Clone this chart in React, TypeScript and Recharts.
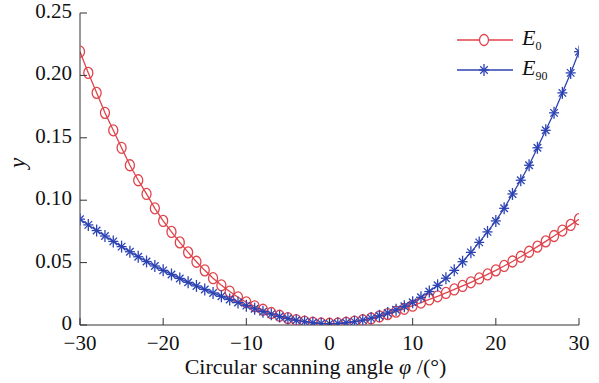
import { LineChart, Line, XAxis, YAxis } from 'recharts';

// scanning angle, degrees
const angles = [
  -30, -29, -28, -27, -26, -25, -24, -23, -22, -21, -20, -19, -18, -17, -16, -15,
  -14, -13, -12, -11, -10, -9, -8, -7, -6, -5, -4, -3, -2, -1, 0,
  1, 2, 3, 4, 5, 6, 7, 8, 9, 10, 11, 12, 13, 14, 15,
  16, 17, 18, 19, 20, 21, 22, 23, 24, 25, 26, 27, 28, 29, 30,
];

const e0 = [
  0.219, 0.202, 0.186, 0.170, 0.156, 0.142, 0.128, 0.116, 0.105, 0.0935, 0.0834, 0.0746, 0.0662, 0.0582, 0.0507, 0.0438,
  0.0375, 0.0318, 0.0268, 0.0222, 0.0182, 0.0150, 0.0122, 0.0096, 0.0074, 0.0055, 0.0039, 0.0027, 0.0018, 0.0012, 0.0010,
  0.0012, 0.0018, 0.0027, 0.0038, 0.0052, 0.0068, 0.0087, 0.0107, 0.0130, 0.0155, 0.0180, 0.0205, 0.0230, 0.0257, 0.0285,
  0.0313, 0.0342, 0.0373, 0.0405, 0.0438, 0.0473, 0.0509, 0.0547, 0.0587, 0.0628, 0.0670, 0.0713, 0.0757, 0.0802, 0.0848,
];

const e90 = [
  0.0848, 0.0802, 0.0757, 0.0713, 0.0670, 0.0628, 0.0587, 0.0547, 0.0509, 0.0473, 0.0438, 0.0405, 0.0373, 0.0342, 0.0313, 0.0285,
  0.0257, 0.0230, 0.0205, 0.0180, 0.0155, 0.0130, 0.0107, 0.0087, 0.0068, 0.0052, 0.0038, 0.0027, 0.0018, 0.0012, 0.0010,
  0.0012, 0.0018, 0.0027, 0.0039, 0.0055, 0.0074, 0.0096, 0.0122, 0.0150, 0.0182, 0.0222, 0.0268, 0.0318, 0.0375, 0.0438,
  0.0507, 0.0582, 0.0662, 0.0746, 0.0834, 0.0935, 0.105, 0.116, 0.128, 0.142, 0.156, 0.170, 0.186, 0.202, 0.219,
];

const xTicks = [-30, -20, -10, 0, 10, 20, 30];
const yTicks = [0, 0.05, 0.1, 0.15, 0.2, 0.25];

const RED = '#e0434b';
const BLUE = '#2d43b3';
const AXIS = '#333';
const FONT = '"Liberation Serif", "Times New Roman", serif';

const data = angles.map((a, i) => ({ a, e0: e0[i], e90: e90[i] }));

const fmtX = (v: number) => (v < 0 ? `\u2212${Math.abs(v)}` : `${v}`);
const fmtY = (v: number) => (v === 0 ? '0' : v.toFixed(2));

const XTick = ({ x, y, payload }: any) => (
  <g>
    <line x1={x} x2={x} y1={y} y2={y - 7} stroke={AXIS} />
    <text x={x} y={y + 25} textAnchor="middle" style={{ fontFamily: FONT, fontSize: 21 }} fill="#111">
      {fmtX(payload.value)}
    </text>
  </g>
);

const YTick = ({ x, y, payload }: any) => (
  <g>
    <line x1={x} x2={x + 7} y1={y} y2={y} stroke={AXIS} />
    <text x={x - 8} y={y + 5} textAnchor="end" style={{ fontFamily: FONT, fontSize: 21 }} fill="#111">
      {fmtY(payload.value)}
    </text>
  </g>
);

const CircleDot = ({ cx, cy, index }: any) => (
  <ellipse key={`c-${index}`} cx={cx} cy={cy} rx={4.5} ry={5.5} fill="none" stroke={RED} strokeWidth={1.3} />
);

const Star = ({ cx, cy, r = 5, color = BLUE }: any) => (
  <g stroke={color} strokeWidth={1.3}>
    <line x1={cx} x2={cx} y1={cy - r - 1} y2={cy + r + 1} />
    <line x1={cx - r} x2={cx + r} y1={cy} y2={cy} />
    <line x1={cx - r * 0.75} x2={cx + r * 0.75} y1={cy - r * 0.75} y2={cy + r * 0.75} />
    <line x1={cx - r * 0.75} x2={cx + r * 0.75} y1={cy + r * 0.75} y2={cy - r * 0.75} />
  </g>
);

const StarDot = (props: any) => <Star key={`s-${props.index}`} cx={props.cx} cy={props.cy} />;

const XLabel = ({ viewBox }: any) => (
  <text x={viewBox.x + viewBox.width / 2 - 14} y={viewBox.y + 49} textAnchor="middle" style={{ fontFamily: FONT, fontSize: 22 }} fill="#111">
    Circular scanning angle <tspan fontStyle="italic">φ</tspan> /(°)
  </text>
);

const YLabel = () => (
  <text x={25} y={163} transform="rotate(-90, 25, 163)" textAnchor="middle" style={{ fontFamily: FONT, fontSize: 23, fontStyle: 'italic' }} fill="#111">
    y
  </text>
);

const LegendBox = () => {
  const rows = [
    { sub: '0', color: RED, marker: <ellipse cx={28} cy={15} rx={4.5} ry={5.5} fill="white" stroke={RED} strokeWidth={1.3} /> },
    { sub: '90', color: BLUE, marker: <Star cx={28} cy={15} /> },
  ];
  return (
    <div style={{ position: 'absolute', top: 25, left: 456, fontFamily: FONT }}>
      {rows.map(r => (
        <div key={r.sub} style={{ display: 'flex', alignItems: 'center', height: 30 }}>
          <svg width={58} height={30}>
            <line x1={1} x2={57} y1={15} y2={15} stroke={r.color} strokeWidth={1.3} />
            {r.marker}
          </svg>
          <span style={{ marginLeft: 8, fontSize: 22, color: '#111' }}>
            <i>E</i>
            <sub style={{ fontSize: 12 }}>{r.sub}</sub>
          </span>
        </div>
      ))}
    </div>
  );
};

export default function App() {
  return (
    <div style={{ position: 'relative', width: 599, height: 383, background: '#fff' }}>
      <style>{`body{margin:0;}`}</style>
      <LineChart width={599} height={383} data={data} margin={{ top: 13, right: 20, bottom: 0, left: 0 }}>
        <XAxis
          dataKey="a" type="number" domain={[-30, 30]} ticks={xTicks} allowDataOverflow
          height={58} tickSize={0} tickMargin={0} tickLine={false} tick={<XTick />}
          axisLine={{ stroke: AXIS }} label={<XLabel />}
        />
        <XAxis xAxisId="top" orientation="top" dataKey="a" type="number" domain={[-30, 30]} height={0} tick={false} tickLine={false} axisLine={{ stroke: AXIS }} />
        <YAxis
          type="number" domain={[0, 0.25]} ticks={yTicks} allowDataOverflow
          width={80} tickSize={0} tickMargin={0} tickLine={false} tick={<YTick />}
          axisLine={{ stroke: AXIS }} label={<YLabel />}
        />
        <YAxis yAxisId="right" orientation="right" domain={[0, 0.25]} width={0} tick={false} tickLine={false} axisLine={{ stroke: AXIS }} />
        <Line dataKey="e0" stroke={RED} strokeWidth={1.3} dot={<CircleDot />} isAnimationActive={false} />
        <Line dataKey="e90" stroke={BLUE} strokeWidth={1.3} dot={<StarDot />} isAnimationActive={false} />
      </LineChart>
      <LegendBox />
    </div>
  );
}
